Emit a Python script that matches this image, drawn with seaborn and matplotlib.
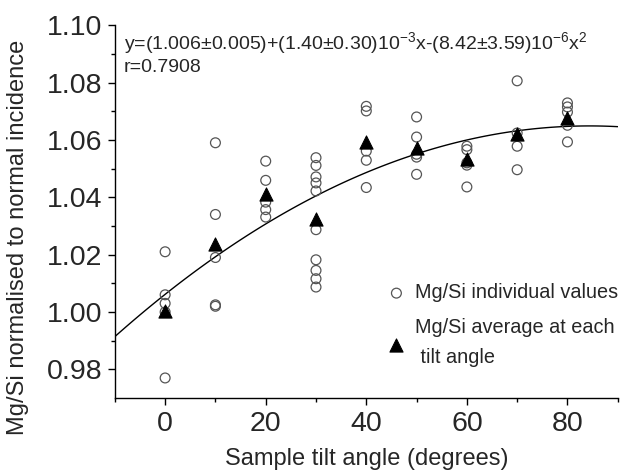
"""
Mg/Si ratio vs sample tilt angle
"""

import numpy as np
import pandas as pd
import seaborn as sns
import matplotlib
matplotlib.use("Agg")
import matplotlib.pyplot as plt

# individual values
angle_0 = [1.021, 1.006, 1.003, 1.000, 0.977]
angle_10 = [1.059, 1.034, 1.019, 1.0025, 1.002]
angle_20 = [1.0526, 1.0459, 1.0383, 1.0357, 1.0331]
angle_30 = [1.0538, 1.0511, 1.0471, 1.0450, 1.0422, 1.0287, 1.0182, 1.0145, 1.0116, 1.0087]
angle_40 = [1.0717, 1.0701, 1.0561, 1.0529, 1.0434]
angle_50 = [1.068, 1.061, 1.055, 1.054, 1.048]
angle_60 = [1.0578, 1.0566, 1.0520, 1.0512, 1.0436]
angle_70 = [1.0806, 1.0624, 1.0578, 1.0496]
angle_80 = [1.0729, 1.0715, 1.0697, 1.0651, 1.0593]

tilt_angles = [0, 10, 20, 30, 40, 50, 60, 70, 80]
avg_values = [1.0002, 1.0238, 1.0413, 1.0325, 1.0593, 1.0573, 1.0535, 1.0622, 1.0678]

x_ticks = [0, 20, 40, 60, 80]
y_ticks = [0.98, 1.00, 1.02, 1.04, 1.06, 1.08, 1.10]

groups = [angle_0, angle_10, angle_20, angle_30, angle_40,
          angle_50, angle_60, angle_70, angle_80]
indiv = pd.DataFrame({
    "angle": np.concatenate([[a] * len(g) for a, g in zip(tilt_angles, groups)]),
    "ratio": np.concatenate(groups),
})
avg = pd.DataFrame({"angle": tilt_angles, "ratio": avg_values})

sns.set_style("ticks")
plt.rcParams["font.family"] = ["Liberation Sans", "DejaVu Sans"]
plt.rcParams["mathtext.fontset"] = "custom"
plt.rcParams["mathtext.rm"] = "Liberation Sans"

fig = plt.figure(figsize=(6.31, 4.75), dpi=100)
ax = fig.add_axes([0.182, 0.162, 0.797, 0.785])

ax.set_xlim(-10, 90)
ax.set_ylim(0.97, 1.10)

# quadratic fit over all individual values
sns.regplot(data=indiv, x="angle", y="ratio", order=2, ci=None, scatter=False,
            truncate=False, color="black", line_kws={"lw": 1.0}, ax=ax)

sns.scatterplot(data=indiv, x="angle", y="ratio", marker="o", s=50,
                facecolor="none", edgecolor="#555555", linewidth=0.9,
                label="Mg/Si individual values", ax=ax, zorder=3)
sns.scatterplot(data=avg, x="angle", y="ratio", marker="^", s=90,
                color="black", edgecolor="black",
                label="Mg/Si average at each\n tilt angle", ax=ax, zorder=4)

ax.set_xlim(-10, 90)
ax.set_ylim(0.97, 1.10)
ax.set_xticks(x_ticks)
ax.set_xticks([-10, 10, 30, 50, 70, 90], minor=True)
ax.set_yticks(y_ticks)
ax.set_yticks([0.99, 1.01, 1.03, 1.05, 1.07, 1.09], minor=True)
ax.set_yticklabels([f"{v:.2f}" for v in y_ticks])
ax.tick_params(axis="both", which="major", labelsize=20.5, length=5, width=1,
               direction="out", color="black", pad=4)
ax.tick_params(axis="both", which="minor", length=3, width=1, color="black")

for s in ["top", "right"]:
    ax.spines[s].set_visible(False)
for s in ["left", "bottom"]:
    ax.spines[s].set_color("black")
    ax.spines[s].set_linewidth(1)

ax.set_xlabel("Sample tilt angle (degrees)", fontsize=17)
ax.set_ylabel("Mg/Si normalised to normal incidence", fontsize=17)
ax.xaxis.set_label_coords(0.5, -0.135)
ax.yaxis.set_label_coords(-0.17, 0.43)

ax.text(0.018, 0.985,
        r"y=(1.006±0.005)+(1.40±0.30)10$^{\mathregular{-3}}$x-(8.42±3.59)10$^{\mathregular{-6}}$x$^{\mathregular{2}}$"
        "\nr=0.7908",
        transform=ax.transAxes, ha="left", va="top", fontsize=14,
        linespacing=1.1)

leg = ax.legend(loc="lower right", bbox_to_anchor=(1.025, 0.05), frameon=False,
                fontsize=14.3, handlelength=1.3, handletextpad=0.3,
                labelspacing=0.8, borderaxespad=0.2)
for t in leg.get_texts():
    t.set_linespacing(1.75)

fig.savefig("out.png", dpi=100)
